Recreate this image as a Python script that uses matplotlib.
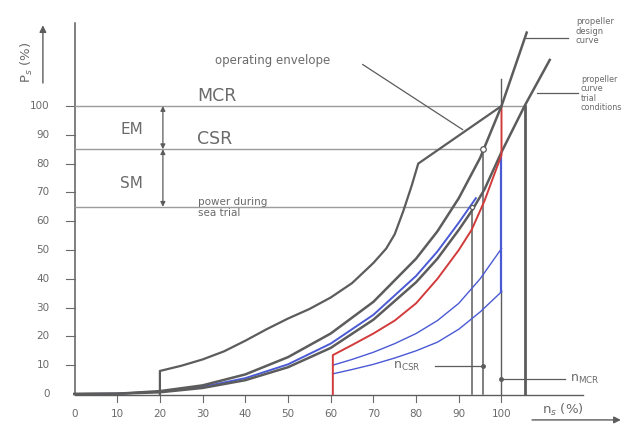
import matplotlib
matplotlib.use('Agg')
import matplotlib.pyplot as plt

# D A T A ------------------------------------------------------------
# engine speed n_s (%) and shaft power P_s (%)

# propeller design curve (through CSR and MCR)
design_n = [0, 10, 20, 30, 40, 50, 60, 70, 80, 85, 90, 95, 100, 105.9]
design_p = [0, 0.1, 1, 3, 6.8, 12.8, 21, 32, 47, 56.5, 68, 82, 100, 125.5]

# propeller curve, trial conditions
trial_n = [0, 10, 20, 30, 40, 50, 60, 70, 80, 85, 90, 93, 96, 100, 105.4, 111.3]
trial_p = [0, 0.1, 0.6, 2.1, 4.8, 9.3, 16, 25.8, 38.8, 47, 57, 63.5, 71, 84, 100, 116]

# blue curve running next to the trial curve, up to the sea trial point
sea_n = [0, 10, 20, 30, 40, 50, 60, 70, 80, 85, 90, 94]
sea_p = [0, 0.1, 0.8, 2.5, 5.5, 10.3, 17.5, 27.5, 41, 49.5, 59.5, 68]

# operating envelope (upper limit)
envelope_n = [20, 20, 25, 30, 35, 40, 45, 50, 55, 60, 65, 70, 73, 75, 77, 79, 80.5, 100]
envelope_p = [0, 8, 9.8, 12, 14.8, 18.5, 22.5, 26.2, 29.5, 33.5, 38.5, 45.5, 50.5, 55.5, 63.5, 72.5, 80, 100]

# red limit curve, from 60 % speed to the MCR speed
red_n = [60.5, 60.5, 65, 70, 75, 80, 85, 90, 93, 96, 100, 100]
red_p = [0, 13.5, 17, 21, 25.5, 31.5, 40, 50, 57, 67, 83, 100]

# lower blue curves
blue1_n = [60.5, 65, 70, 75, 80, 85, 90, 95, 100]
blue1_p = [10, 12, 14.5, 17.5, 21, 25.5, 31.5, 40, 50.5]
blue2_n = [60.5, 65, 70, 75, 80, 85, 90, 95, 100]
blue2_p = [7, 8.5, 10.3, 12.5, 15, 18, 22.5, 28.5, 35.5]

# power levels and speeds
mcr_p = 100
csr_p = 85
sea_trial_p = 65
n_csr = 95.7
n_sea = 93.1
n_mcr = 100
n_mcr_trial = 105.4

x_ticks = [0, 10, 20, 30, 40, 50, 60, 70, 80, 90, 100]
y_ticks = [0, 10, 20, 30, 40, 50, 60, 70, 80, 90, 100]

# S T Y L E ----------------------------------------------------------
GRAY = '#5c5c5c'
LIGHT = '#9c9c9c'
BLUE = '#4a5ad4'
RED = '#d23b3b'
TEXT = '#6a6a6a'

# F I G U R E --------------------------------------------------------
fig = plt.figure(figsize=(6.24, 4.29), dpi=100)
ax = fig.add_axes([0, 0, 1, 1])
# pixel layout: n=0 at x=74.5px, 4.27 px per %; P=0 at 35px from bottom, 2.88 px per %
ax.set_xlim(-74.5 / 4.27, (624 - 74.5) / 4.27)
ax.set_ylim(-35 / 2.88, (429 - 35) / 2.88)
ax.axis('off')

# axes lines
ax.plot([0, 0], [0, 128.8], color=GRAY, lw=1.1)
ax.plot([0, 119], [-0.3, -0.3], color=GRAY, lw=1.0)

for t in x_ticks[1:]:
    ax.plot([t, t], [-0.6, -2.8], color=TEXT, lw=0.8)
for t in x_ticks:
    ax.text(t, -7, str(t), ha='center', va='center', fontsize=7.5, color=TEXT)
for t in y_ticks[1:]:
    ax.plot([-1.9, 0], [t, t], color=TEXT, lw=0.8)
for t in y_ticks:
    ax.text(-5.8, t, str(t), ha='right', va='center', fontsize=7.5, color=TEXT)

# axis labels with arrows
ax.text(-11.2, 115, r'P$_s$ (%)', rotation=90, ha='center', va='center', fontsize=9.5, color=TEXT)
ax.annotate('', xy=(-7.4, 129), xytext=(-7.4, 107),
            arrowprops=dict(arrowstyle='-|>', color=GRAY, lw=1.0, mutation_scale=10))
ax.text(114.4, -5.6, r'n$_s$ (%)', ha='center', va='center', fontsize=9.5, color=TEXT)
ax.annotate('', xy=(128.6, -9), xytext=(106.5, -9),
            arrowprops=dict(arrowstyle='-|>', color=GRAY, lw=1.0, mutation_scale=10))

# horizontal power levels
ax.plot([0, n_mcr_trial], [mcr_p, mcr_p], color=LIGHT, lw=1.0)
ax.plot([0, n_csr], [csr_p, csr_p], color=LIGHT, lw=1.0)
ax.plot([0, n_sea], [sea_trial_p, sea_trial_p], color=LIGHT, lw=1.0)

# vertical speed lines
ax.plot([n_sea, n_sea], [0, sea_trial_p], color=GRAY, lw=1.1)
ax.plot([n_csr, n_csr], [0, csr_p], color=GRAY, lw=1.1)
ax.plot([n_mcr, n_mcr], [0, 36], color=GRAY, lw=1.0)
ax.plot([n_mcr, n_mcr], [mcr_p, 109.5], color=GRAY, lw=1.0)
ax.plot([n_mcr_trial, n_mcr_trial], [0, mcr_p], color=GRAY, lw=2.0)

# curves
ax.plot(blue2_n, blue2_p, color=BLUE, lw=1.0)
ax.plot(blue1_n, blue1_p, color=BLUE, lw=1.0)
ax.plot([n_mcr, n_mcr], [35.5, 83], color=BLUE, lw=1.6)
ax.plot(sea_n, sea_p, color=BLUE, lw=1.4)
ax.plot(trial_n, trial_p, color=GRAY, lw=1.8)
ax.plot(red_n, red_p, color=RED, lw=1.4)
ax.plot(design_n, design_p, color=GRAY, lw=1.8)
ax.plot(envelope_n, envelope_p, color=GRAY, lw=1.6)

# operating points
ax.plot(n_csr, csr_p, 'o', ms=4, mfc='white', mec=GRAY, mew=0.9)
ax.plot(n_sea, sea_trial_p, 'o', ms=3, mfc='white', mec=GRAY, mew=0.9)

# margins EM / SM
ax.annotate('', xy=(20.7, mcr_p), xytext=(20.7, csr_p),
            arrowprops=dict(arrowstyle='<|-|>', color=GRAY, lw=0.9, mutation_scale=7,
                            shrinkA=0, shrinkB=0))
ax.annotate('', xy=(20.7, csr_p), xytext=(20.7, sea_trial_p),
            arrowprops=dict(arrowstyle='<|-|>', color=GRAY, lw=0.9, mutation_scale=7,
                            shrinkA=0, shrinkB=0))
ax.text(10.7, 91.8, 'EM', ha='left', va='center', fontsize=11, color=TEXT)
ax.text(10.7, 73.2, 'SM', ha='left', va='center', fontsize=11, color=TEXT)

# level labels
ax.text(28.7, 100.4, 'MCR', ha='left', va='bottom', fontsize=12.5, color=TEXT)
ax.text(28.7, 85.4, 'CSR', ha='left', va='bottom', fontsize=12.5, color=TEXT)
ax.text(28.9, 66.8, 'power during', ha='left', va='center', fontsize=7.5, color=TEXT)
ax.text(28.9, 62.8, 'sea trial', ha='left', va='center', fontsize=7.5, color=TEXT)

# operating envelope leader
ax.text(32.9, 115.8, 'operating envelope', ha='left', va='center', fontsize=8.5, color=TEXT)
ax.plot([67.5, 90.9], [114.4, 91.8], color=GRAY, lw=0.9)

# curve labels on the right, wrapped to stay inside the picture
ax.plot([105.7, 115.5], [123.6, 123.6], color=GRAY, lw=0.9)
ax.text(117.4, 126.0, 'propeller\ndesign\ncurve', ha='left', va='center', fontsize=6,
        color=TEXT, linespacing=1.1)
ax.plot([108.3, 118.0], [104.5, 104.5], color=GRAY, lw=0.9)
ax.text(118.6, 104.3, 'propeller\ncurve\ntrial\nconditions', ha='left', va='center',
        fontsize=5.8, color=TEXT, linespacing=1.05)

# speed labels
ax.text(74.6, 9.7, r'n$_{\mathrm{CSR}}$', ha='left', va='center', fontsize=9, color=TEXT)
ax.plot([84.4, n_csr], [9.7, 9.7], color=GRAY, lw=0.9)
ax.plot(n_csr, 9.7, 'o', ms=2.5, color=GRAY)
ax.text(116.0, 5.2, r'n$_{\mathrm{MCR}}$', ha='left', va='center', fontsize=9, color=TEXT)
ax.plot([n_mcr, 114.9], [5.2, 5.2], color=GRAY, lw=0.9)
ax.plot(n_mcr, 5.2, 'o', ms=2.5, color=GRAY)

fig.savefig('out.png', dpi=100, facecolor='white')
